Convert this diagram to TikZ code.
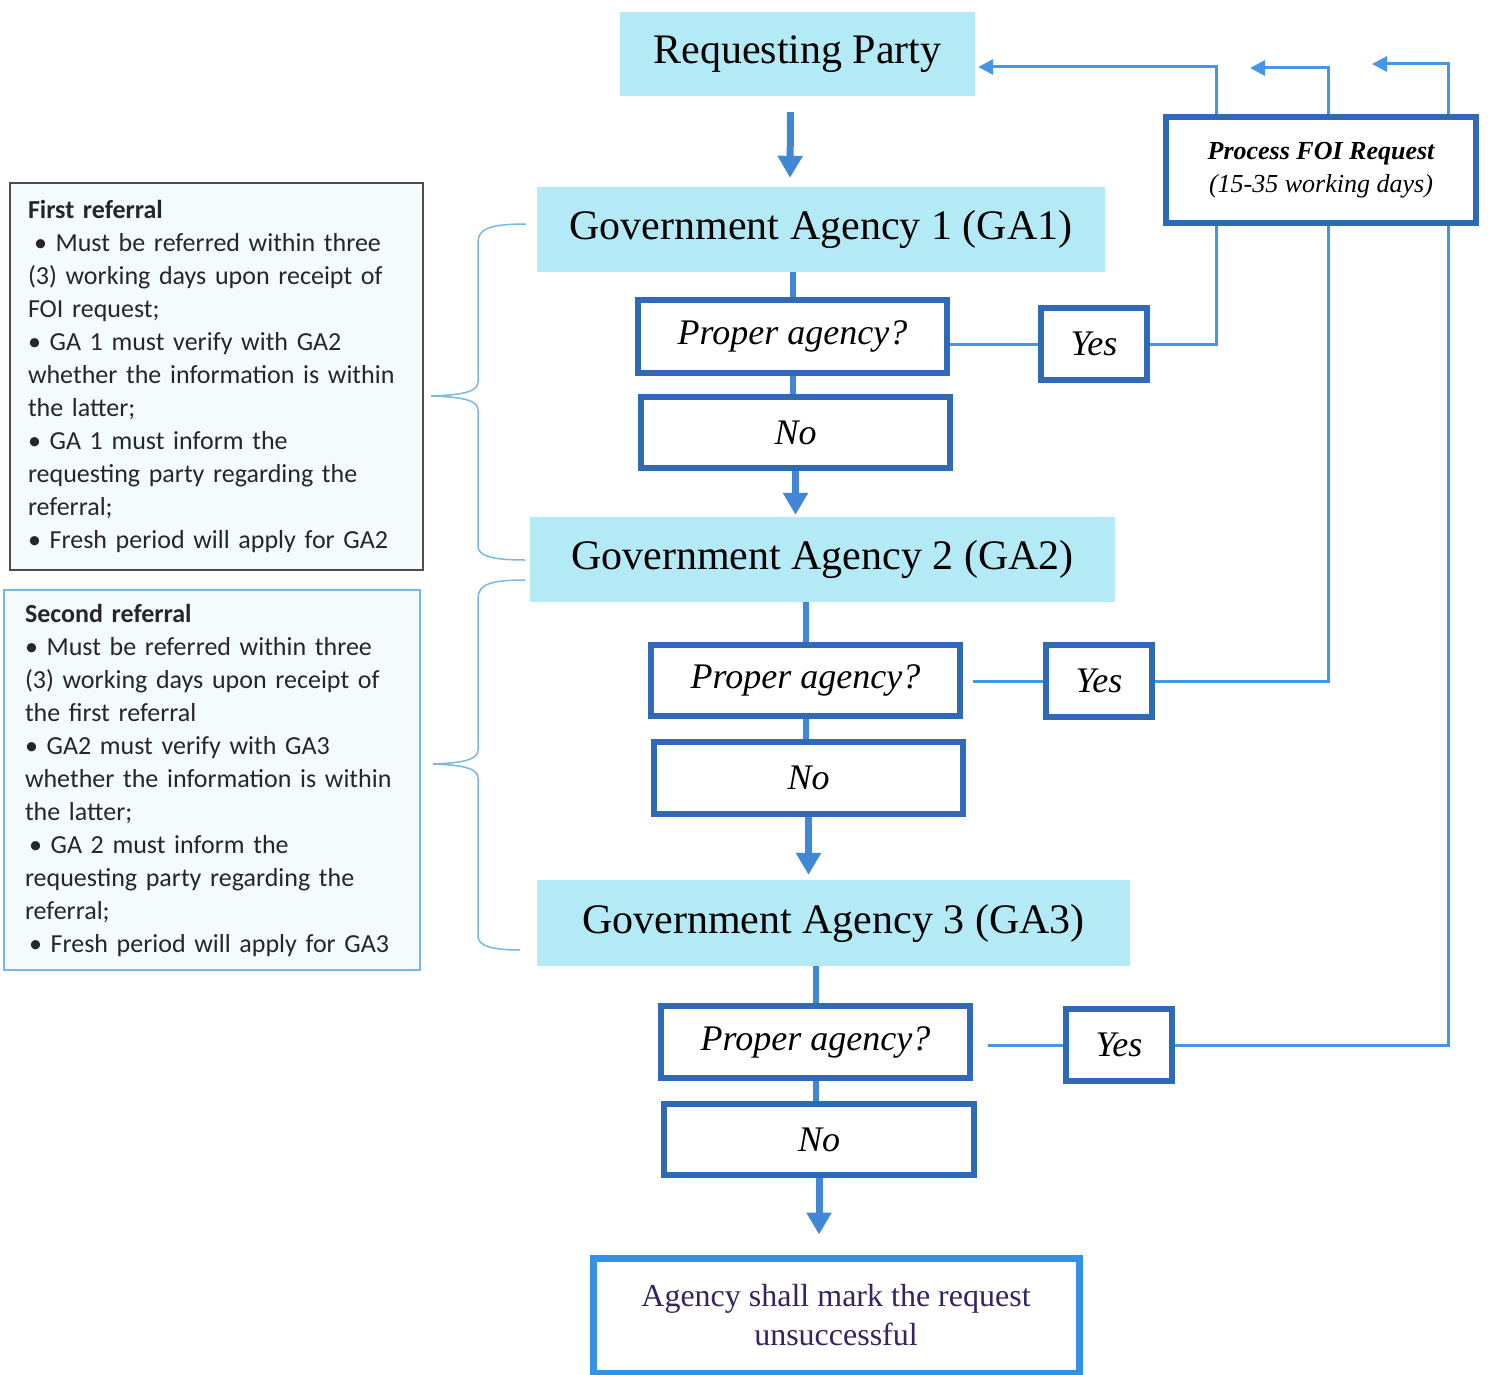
\documentclass[tikz,border=0pt]{standalone}
\usepackage{fontspec}
\setmainfont{Liberation Serif}
\newfontfamily\calib{Carlito}
\usetikzlibrary{arrows.meta}
\definecolor{cyanfill}{RGB}{180,234,246}
\definecolor{dkblue}{RGB}{46,106,182}
\definecolor{midblue}{RGB}{66,134,214}
\definecolor{lnblue}{RGB}{70,150,230}
\definecolor{brblue}{RGB}{120,185,225}
\definecolor{finblue}{RGB}{52,145,228}
\definecolor{fintext}{RGB}{55,35,95}
\definecolor{notefill}{RGB}{243,251,253}
\begin{document}
\begin{tikzpicture}[x=1pt,y=-1pt,
  agency/.style={fill=cyanfill, inner sep=0pt, font=\fontsize{42}{48}\selectfont},
  qbox/.style={draw=dkblue, line width=6pt, fill=white, inner sep=0pt, font=\fontsize{36}{40}\selectfont\itshape},
  thickln/.style={draw=midblue, line width=6pt},
  bigarrow/.style={draw=midblue, line width=7pt, -{Triangle[width=24pt,length=22pt]}},
  retln/.style={draw=lnblue, line width=3pt},
  retarrow/.style={retln, -{Triangle[width=15pt,length=15pt]}},
  note/.style={fill=notefill, line width=1.5pt, inner ysep=0pt, align=left, font=\calib\fontsize{26}{33}\selectfont, text=black!85},
  brace/.style={draw=brblue, line width=1.5pt}
]
\useasboundingbox (0,0) rectangle (1488,1375);

% main flow nodes
\node[agency, minimum width=355pt, minimum height=84pt] (RP) at (797.5,54) {Requesting Party};
\node[agency, minimum width=568pt, minimum height=85pt] (GA1) at (821,229.5) {Government Agency 1 (GA1)};
\node[agency, minimum width=585pt, minimum height=85pt] (GA2) at (822.5,559.5) {Government Agency 2 (GA2)};
\node[agency, minimum width=593pt, minimum height=86pt] (GA3) at (833.5,923) {Government Agency 3 (GA3)};

\node[qbox, minimum width=309pt, minimum height=73pt] (PA1) at (792.5,336.5) {Proper agency?};
\node[qbox, minimum width=106pt, minimum height=72pt] (Yes1) at (1094,344) {Yes};
\node[qbox, minimum width=309pt, minimum height=71pt] (No1) at (795.5,432.5) {No};

\node[qbox, minimum width=309pt, minimum height=71pt] (PA2) at (805.5,680.5) {Proper agency?};
\node[qbox, minimum width=106pt, minimum height=72pt] (Yes2) at (1099,681) {Yes};
\node[qbox, minimum width=309pt, minimum height=72pt] (No2) at (808.5,778) {No};

\node[qbox, minimum width=309pt, minimum height=72pt] (PA3) at (815.5,1042) {Proper agency?};
\node[qbox, minimum width=106pt, minimum height=72pt] (Yes3) at (1119,1045) {Yes};
\node[qbox, minimum width=310pt, minimum height=71pt] (No3) at (819,1139.5) {No};

\node[draw=finblue, line width=7pt, fill=white, minimum width=486pt, minimum height=115pt, align=center, text=fintext, font=\fontsize{32}{39}\selectfont] (Final) at (836,1315.5) {Agency shall mark the request\\unsuccessful};

% note boxes
\node[note, draw=black!70, inner xsep=18pt, text width=377pt, minimum height=387pt] (N1) at (216.5,376.5) {%
\textbf{First referral}\\
\hspace*{6pt}\textbullet\ Must be referred within three\\
(3) working days upon receipt of\\
FOI request;\\
\textbullet\ GA 1 must verify with GA2\\
whether the information is within\\
the latter;\\
\textbullet\ GA 1 must inform the\\
requesting party regarding the\\
referral;\\
\textbullet\ Fresh period will apply for GA2};
\node[note, draw=brblue, inner xsep=21pt, text width=374pt, minimum height=380pt] (N2) at (212,780) {%
\textbf{Second referral}\\
\textbullet\ Must be referred within three\\
(3) working days upon receipt of\\
the first referral\\
\textbullet\ GA2 must verify with GA3\\
whether the information is within\\
the latter;\\
\hspace*{4pt}\textbullet\ GA 2 must inform the\\
requesting party regarding the\\
referral;\\
\hspace*{4pt}\textbullet\ Fresh period will apply for GA3};

% braces
\draw[brace] (526,224) .. controls (492,224) and (478,228) .. (478,242) -- (478,382)
  .. controls (478,392) and (462,395) .. (431,396)
  .. controls (462,397) and (478,400) .. (478,410) -- (478,546)
  .. controls (478,556) and (492,560) .. (525,560);
\draw[brace] (525,580) .. controls (492,580) and (478,584) .. (478,598) -- (478,750)
  .. controls (478,760) and (462,763) .. (433,764)
  .. controls (462,765) and (478,768) .. (478,778) -- (478,936)
  .. controls (478,946) and (492,950) .. (520,950);

% vertical flow
\draw[bigarrow] ([xshift=-7pt,yshift=-16pt]RP.south) -- ([xshift=-31pt,yshift=9pt]GA1.north);
\draw[thickln] (PA1.north |- GA1.south) -- (PA1.north);
\draw[thickln] (PA1.south) -- (PA1.south |- No1.north);
\draw[bigarrow] (No1.south) -- ([yshift=2pt]No1.south |- GA2.north);
\draw[thickln] (PA2.north |- GA2.south) -- (PA2.north);
\draw[thickln] (PA2.south) -- (PA2.south |- No2.north);
\draw[bigarrow] (No2.south) -- ([yshift=5pt]No2.south |- GA3.north);
\draw[thickln] (PA3.north |- GA3.south) -- (PA3.north);
\draw[thickln] (PA3.south) -- (PA3.south |- No3.north);
\draw[bigarrow] (No3.south) -- ([yshift=20pt]No3.south |- Final.north);

% yes branches
\draw[retln] (PA1.east |- Yes1.west) -- (Yes1.west);
\draw[retln, shorten <=10pt] (PA2.east |- Yes2.west) -- (Yes2.west);
\draw[retln, shorten <=15pt] (PA3.east |- Yes3.west) -- (Yes3.west);

\coordinate (c1) at (1216,67);
\coordinate (c2) at (1328,68);
\coordinate (c3) at (1448,64);
\coordinate (t2) at (1250,68);
\coordinate (t3) at (1372,64);
\draw[retarrow] (Yes1.east) -| (c1) -- ([xshift=3pt]RP.east |- c1);
\draw[retarrow] (Yes2.east) -| (c2) -- (t2);
\draw[retarrow] (Yes3.east) -| (c3) -- (t3);

\node[qbox, minimum width=310pt, minimum height=106pt, align=center, font=\fontsize{26}{33}\selectfont\itshape] (FOI) at (1321,170) {{\bfseries Process FOI Request}\\(15-35 working days)};
\end{tikzpicture}
\end{document}
